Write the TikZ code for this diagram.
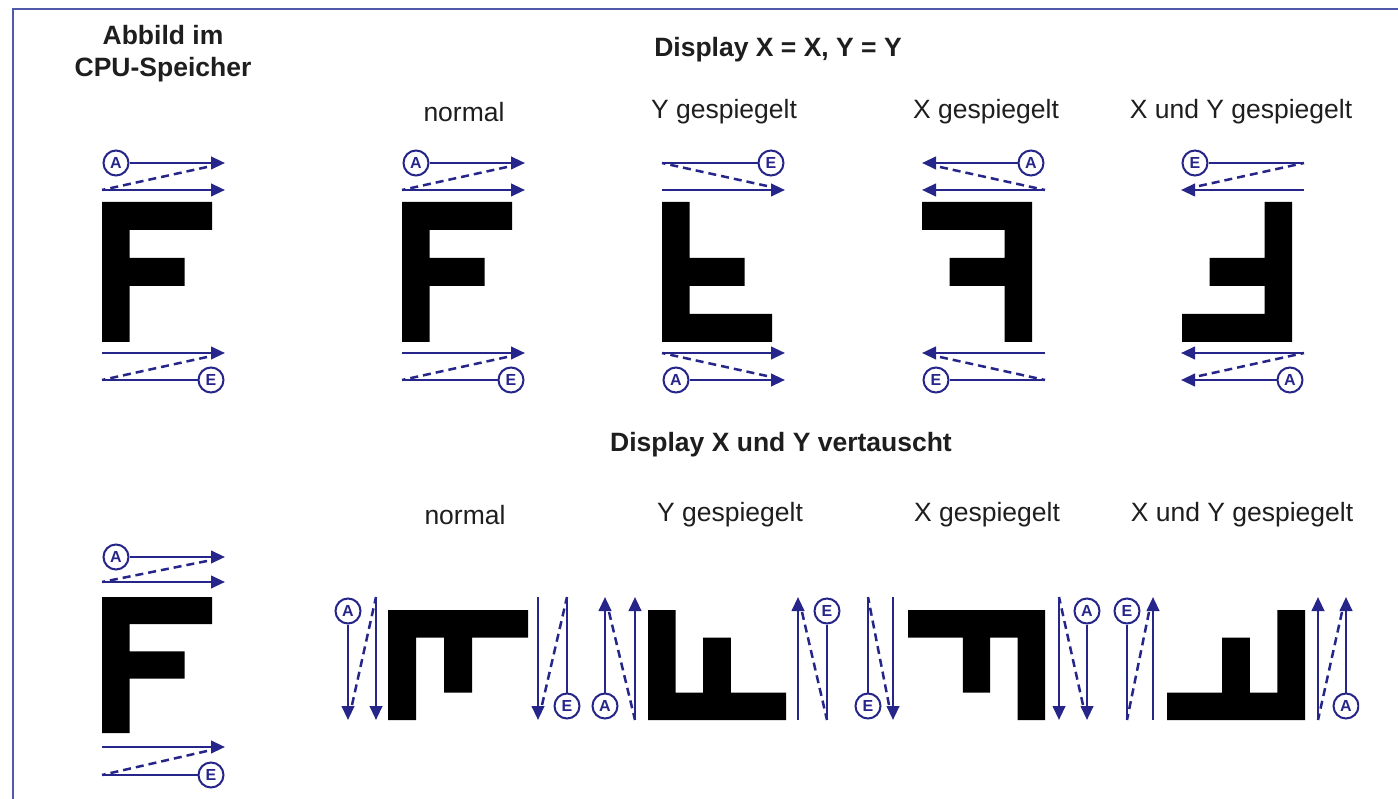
\documentclass[tikz,border=0pt]{standalone}
\usepackage{fontspec}
\setmainfont{Liberation Sans}
\usetikzlibrary{arrows.meta}
\definecolor{arrblue}{RGB}{38,38,138}
\definecolor{framec}{RGB}{80,90,170}
\definecolor{txt}{RGB}{30,30,30}
\tikzset{
 arr/.style={draw=arrblue, line width=2.5pt, -{Triangle[length=14pt,width=12.5pt]}},
 ln/.style={draw=arrblue, line width=2.5pt},
 dsh/.style={draw=arrblue, line width=2.5pt, dash pattern=on 8pt off 5pt},
 lettercircle/.style={circle, draw=arrblue, line width=2pt, minimum size=25pt, inner sep=0pt, text=arrblue, font=\fontsize{16}{16}\selectfont\bfseries},
 headline/.style={font=\fontsize{26.5}{32}\selectfont\bfseries, align=center, text=txt},
 colhead/.style={font=\fontsize{26.5}{32}\selectfont, text=txt},
}
% horizontal group, circle A on the circle line
\newcommand\hgrpA[5]{%
 \pgfmathsetmacro\gxs{#5>0 ? #2 : #2+123}%
 \pgfmathsetmacro\gxt{#5>0 ? #2+123 : #2}%
 \pgfmathsetmacro\gxc{\gxs+(#5)*14}%
 \pgfmathsetmacro\gxd{\gxt-(#5)*18}%
 \pgfmathsetmacro\gyd{#3+(#4>#3 ? 4 : -4)}%
 \node[lettercircle] (#1c) at (\gxc,#3) {A};
 \coordinate (#1t1) at (\gxt,#3);
 \coordinate (#1s2) at (\gxs,#4);
 \coordinate (#1t2) at (\gxt,#4);
 \coordinate (#1d) at (\gxd,\gyd);
 \draw[arr] (#1c) -- (#1t1);
 \draw[arr] (#1s2) -- (#1t2);
 \draw[dsh] (#1d) -- (#1s2);
}
% horizontal group, circle E on the circle line
\newcommand\hgrpE[5]{%
 \pgfmathsetmacro\gxs{#5>0 ? #2 : #2+123}%
 \pgfmathsetmacro\gxt{#5>0 ? #2+123 : #2}%
 \pgfmathsetmacro\gxc{\gxt-(#5)*14}%
 \pgfmathsetmacro\gxd{\gxt-(#5)*18}%
 \pgfmathsetmacro\gyd{#4+(#3>#4 ? 4 : -4)}%
 \node[lettercircle] (#1c) at (\gxc,#3) {E};
 \coordinate (#1s1) at (\gxs,#3);
 \coordinate (#1s2) at (\gxs,#4);
 \coordinate (#1t2) at (\gxt,#4);
 \coordinate (#1d) at (\gxd,\gyd);
 \draw[arr] (#1s2) -- (#1t2);
 \draw[dsh] (#1d) -- (#1s1);
 \draw[ln] (#1s1) -- (#1c);
}
% vertical group, circle A
\newcommand\vgrpA[4]{%
 \pgfmathsetmacro\gys{#4>0 ? 597 : 720}%
 \pgfmathsetmacro\gyt{#4>0 ? 720 : 597}%
 \pgfmathsetmacro\gyc{\gys+(#4)*14}%
 \pgfmathsetmacro\gyd{\gyt-(#4)*15}%
 \pgfmathsetmacro\gxd{#2+(#3>#2 ? 4 : -4)}%
 \node[lettercircle] (#1c) at (#2,\gyc) {A};
 \coordinate (#1t1) at (#2,\gyt);
 \coordinate (#1s2) at (#3,\gys);
 \coordinate (#1t2) at (#3,\gyt);
 \coordinate (#1d) at (\gxd,\gyd);
 \draw[arr] (#1c) -- (#1t1);
 \draw[arr] (#1s2) -- (#1t2);
 \draw[dsh] (#1d) -- (#1s2);
}
% vertical group, circle E
\newcommand\vgrpE[4]{%
 \pgfmathsetmacro\gys{#4>0 ? 597 : 720}%
 \pgfmathsetmacro\gyt{#4>0 ? 720 : 597}%
 \pgfmathsetmacro\gyc{\gyt-(#4)*14}%
 \pgfmathsetmacro\gyd{\gyt-(#4)*15}%
 \pgfmathsetmacro\gxd{#3+(#2>#3 ? 4 : -4)}%
 \node[lettercircle] (#1c) at (#2,\gyc) {E};
 \coordinate (#1s1) at (#2,\gys);
 \coordinate (#1s2) at (#3,\gys);
 \coordinate (#1t2) at (#3,\gyt);
 \coordinate (#1d) at (\gxd,\gyd);
 \draw[arr] (#1s2) -- (#1t2);
 \draw[dsh] (#1d) -- (#1s1);
 \draw[ln] (#1s1) -- (#1c);
}
\newcommand\drawF[3]{%
 \begin{scope}[shift={(#1,#2)},#3]
 \fill[black] (0,0) -- (4,0) -- (4,1) -- (1,1) -- (1,2) -- (3,2) -- (3,3) -- (1,3) -- (1,5) -- (0,5) -- cycle;
 \end{scope}}
\newcommand\drawT[3]{%
 \begin{scope}[shift={(#1,#2)},#3]
 \fill[black] (0,0) -- (0,4) -- (1,4) -- (1,1) -- (2,1) -- (2,3) -- (3,3) -- (3,1) -- (5,1) -- (5,0) -- cycle;
 \end{scope}}
\begin{document}
\begin{tikzpicture}[x=1pt,y=-1pt]
\useasboundingbox (0,0) rectangle (1398,799);
\fill[white] (0,0) rectangle (1398,799);
\draw[framec, line width=2pt] (13,799) -- (13,9) -- (1398,9);
% texts
\node[headline] (tcpu) at (163,54) {Abbild im\\CPU-Speicher};
\node[headline] (tdisp1) at (778,50) {Display X = X, Y = Y};
\node[colhead] (h11) at (464,112) {normal};
\node[colhead] (h12) at (724,112) {Y gespiegelt};
\node[colhead] (h13) at (986,112) {X gespiegelt};
\node[colhead] (h14) at (1241,112) {X und Y gespiegelt};
\node[headline] (tdisp2) at (781,445) {Display X und Y vertauscht};
\node[colhead] (h21) at (465,515) {normal};
\node[colhead] (h22) at (730,515) {Y gespiegelt};
\node[colhead] (h23) at (987,515) {X gespiegelt};
\node[colhead] (h24) at (1242,515) {X und Y gespiegelt};
% top row letters
\drawF{102}{202}{xscale=27.5,yscale=28}
\drawF{402}{202}{xscale=27.5,yscale=28}
\drawF{662}{342}{xscale=27.5,yscale=-28}
\drawF{1032}{202}{xscale=-27.5,yscale=28}
\drawF{1292}{342}{xscale=-27.5,yscale=-28}
% top row scan arrows
\hgrpA{a0}{102}{163}{190}{1}
\hgrpE{b0}{102}{380}{353}{1}
\hgrpA{a1}{402}{163}{190}{1}
\hgrpE{b1}{402}{380}{353}{1}
\hgrpE{a2}{662}{163}{190}{1}
\hgrpA{b2}{662}{380}{353}{1}
\hgrpA{a3}{922}{163}{190}{-1}
\hgrpE{b3}{922}{380}{353}{-1}
\hgrpE{a4}{1181}{163}{190}{-1}
\hgrpA{b4}{1181}{380}{353}{-1}
% bottom row, CPU image
\drawF{102}{597}{xscale=27.5,yscale=27.2}
\hgrpA{c0}{102}{557}{582}{1}
\hgrpE{d0}{102}{775}{747}{1}
% bottom row, transposed
\drawT{388}{610}{xscale=28,yscale=27.5}
\drawT{648}{720}{xscale=27.6,yscale=-27.5}
\drawT{1045}{610}{xscale=-27.4,yscale=27.5}
\drawT{1305}{720}{xscale=-27.6,yscale=-27.5}
\vgrpA{nl}{348}{376}{1}
\vgrpE{nr}{567}{538}{1}
\vgrpA{yl}{605}{635}{-1}
\vgrpE{yr}{827}{798}{-1}
\vgrpE{xl}{868}{893}{1}
\vgrpA{xr}{1087}{1059}{1}
\vgrpE{ql}{1127}{1153}{-1}
\begin{scope}
\clip (0,0) rectangle (1359,799);
\vgrpA{qr}{1346}{1318}{-1}
\end{scope}
\end{tikzpicture}
\end{document}
